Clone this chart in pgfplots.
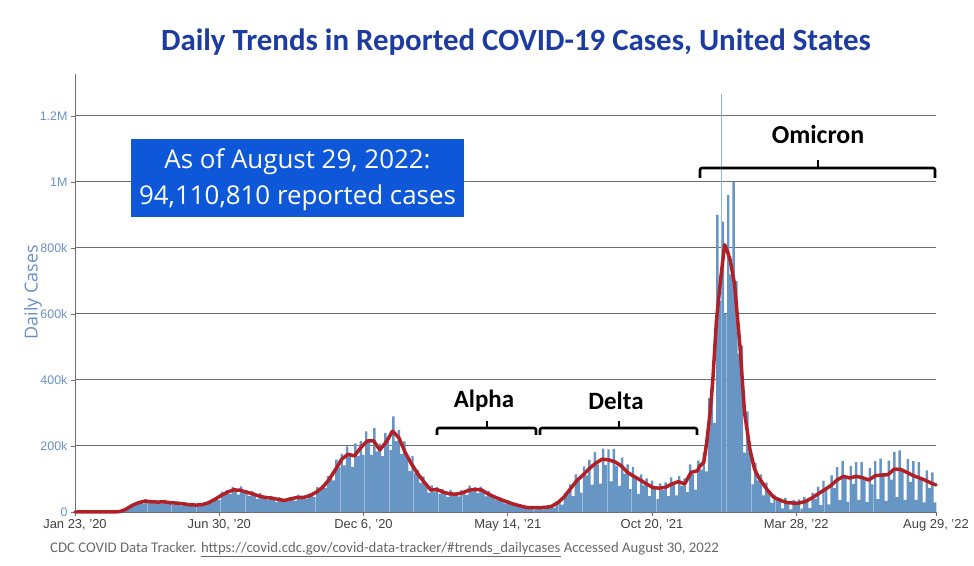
\documentclass[border=0pt]{standalone}
\usepackage{pgfplots}
\pgfplotsset{compat=1.18}
\usepackage{fontspec}
\setmainfont{Liberation Sans}
\newfontfamily\calib{Carlito}
\newfontfamily\opens{Open Sans}
\definecolor{barblue}{RGB}{104,150,196}
\definecolor{spikeblue}{RGB}{140,180,220}
\definecolor{linered}{RGB}{176,32,38}
\definecolor{titleblue}{RGB}{28,60,160}
\definecolor{boxblue}{RGB}{14,87,216}
\definecolor{ylabblue}{RGB}{105,145,198}
\definecolor{gridgray}{RGB}{110,110,110}
\definecolor{srcgray}{RGB}{105,105,105}
\begin{document}
\begin{tikzpicture}
\useasboundingbox (0,0) rectangle (974bp,566bp);
\begin{axis}[
  at={(75bp,54bp)}, anchor=south west,
  scale only axis, width=861bp, height=438bp,
  xmin=0, xmax=949, ymin=0, ymax=1327,
  axis x line*=bottom, axis y line*=left,
  axis line style={gridgray, line width=1pt},
  xtick={0,159,318,477,636,795,949},
  xticklabels={{Jan 23, '20},{Jun 30, '20},{Dec 6, '20},{May 14, '21},{Oct 20, '21},{Mar 28, '22},{Aug 29, '22}},
  ytick={0,200,400,600,800,1000,1200},
  yticklabels={0,200k,400k,600k,800k,1M,1.2M},
  xticklabel style={font=\fontsize{13}{15}\selectfont, text=black!75},
  yticklabel style={font=\fontsize{12.5}{14}\selectfont, text=ylabblue},
  tick align=outside, major tick length=4bp,
  tick style={gridgray, line width=0.8pt},
  ymajorgrids, grid style={gridgray, line width=1pt},
  clip=false,
]
\addplot[ybar, bar width=2.7, fill=barblue, draw=none] coordinates {
(0,0)(3,0)(6,0)(9,0)(12,0)(15,0)(18,0)(21,0)(24,0)(27,0)(30,0)(33,0)(36,0)(39,0)(42,0)(45,1)(48,1)(51,3)(54,5)(57,12)(60,14)(63,22)(66,20)(69,31)(72,29)(75,25)(78,39)(81,29)(84,34)(87,26)(90,35)(93,30)(96,25)(99,37)(102,27)(105,31)(108,23)(111,31)(114,26)(117,20)(120,30)(123,21)(126,24)(129,18)(132,24)(135,21)(138,17)(141,27)(144,23)(147,31)(150,27)(153,42)(156,41)(159,37)(162,62)(165,51)(168,66)(171,54)(174,76)(177,67)(180,53)(183,78)(186,58)(189,66)(192,49)(195,64)(198,53)(201,40)(204,57)(207,42)(210,48)(213,37)(216,49)(219,41)(222,31)(225,45)(228,33)(231,39)(234,32)(237,45)(240,41)(243,34)(246,53)(249,40)(252,48)(255,40)(258,56)(261,53)(264,46)(267,75)(270,63)(273,83)(276,72)(279,109)(282,107)(285,96)(288,159)(291,135)(294,176)(297,141)(300,199)(303,174)(306,137)(309,208)(312,170)(315,215)(318,173)(321,244)(324,215)(327,173)(330,254)(333,184)(336,207)(339,169)(342,240)(345,222)(348,188)(351,290)(354,215)(357,248)(360,175)(363,214)(366,170)(369,124)(372,169)(375,118)(378,127)(381,89)(384,108)(387,83)(390,59)(393,81)(396,62)(399,75)(402,55)(405,70)(408,59)(411,45)(414,66)(417,50)(420,59)(423,47)(426,66)(429,60)(432,51)(435,80)(438,62)(441,75)(444,57)(447,77)(450,64)(453,47)(456,64)(459,46)(462,51)(465,36)(468,45)(471,36)(474,26)(477,36)(480,25)(483,26)(486,19)(489,23)(492,18)(495,12)(498,17)(501,12)(504,16)(507,8)(510,16)(513,13)(516,8)(519,17)(522,14)(525,20)(528,13)(531,33)(534,31)(537,22)(540,58)(543,53)(546,84)(549,48)(552,114)(555,95)(558,59)(561,138)(564,111)(567,158)(570,83)(573,182)(576,144)(579,86)(582,192)(585,143)(588,190)(591,93)(594,191)(597,140)(600,79)(603,165)(606,116)(609,144)(612,69)(615,137)(618,100)(621,55)(624,114)(627,81)(630,102)(633,48)(636,95)(639,70)(642,40)(645,87)(648,66)(651,90)(654,48)(657,105)(660,84)(663,50)(666,109)(669,79)(672,102)(675,60)(678,144)(681,115)(684,68)(687,156)(690,128)(693,180)(696,123)(699,345)(702,356)(705,270)(708,900)(711,640)(714,880)(717,600)(720,960)(723,720)(726,1000)(729,700)(732,479)(735,504)(738,180)(741,305)(744,179)(747,84)(750,149)(753,96)(756,114)(759,50)(762,89)(765,58)(768,28)(771,53)(774,36)(777,43)(780,11)(783,43)(786,28)(789,8)(792,36)(795,22)(798,38)(801,10)(804,45)(807,35)(810,12)(813,59)(816,40)(819,77)(822,21)(825,95)(828,71)(831,23)(834,111)(837,72)(840,136)(843,36)(846,154)(849,107)(852,31)(855,140)(858,85)(861,151)(864,37)(867,152)(870,102)(873,30)(876,134)(879,84)(882,154)(885,39)(888,162)(891,112)(894,34)(897,156)(900,98)(903,182)(906,45)(909,187)(912,126)(915,37)(918,160)(921,91)(924,154)(927,37)(930,151)(933,101)(936,29)(939,126)(942,72)(945,120)(948,29)
};
\addplot[ycomb, spikeblue, line width=0.8pt, mark=none] coordinates {(712,1265)};
\addplot[linered, line width=3.5pt, line join=round, line cap=round, mark=none] coordinates {
(0,0)(42,0.3)(49,1)(56,8)(63,20)(70,28)(77,33)(84,31)(91,30)(98,31)(105,28)(112,27)(119,25)(126,22)(133,21)(140,22)(147,28)(154,38)(161,50)(168,60)(175,67)(182,66)(189,60)(196,55)(203,48)(210,44)(217,42)(224,38)(231,35)(238,40)(245,44)(252,44)(259,50)(266,60)(273,75)(280,98)(287,128)(294,160)(301,175)(308,170)(315,195)(322,215)(329,216)(336,188)(343,212)(350,245)(357,225)(364,180)(371,145)(378,115)(385,90)(392,67)(399,68)(406,60)(413,55)(420,54)(427,58)(434,66)(441,68)(448,67)(455,55)(462,46)(469,38)(476,31)(483,24)(490,19)(497,14)(504,13)(511,13)(518,14)(525,17)(532,28)(539,45)(546,70)(553,95)(560,112)(567,132)(574,148)(581,160)(588,158)(595,152)(602,140)(609,120)(616,108)(623,97)(630,85)(637,74)(644,72)(651,75)(658,85)(665,92)(672,85)(679,120)(686,125)(689,140)(693,150)(696,205)(700,300)(703,400)(707,580)(711,690)(716,810)(719,790)(722,765)(727,690)(733,500)(738,300)(744,188)(749,130)(753,107)(763,67)(770,45)(777,36)(784,29)(791,27)(798,27)(805,32)(812,42)(819,55)(826,67)(833,80)(840,97)(847,108)(854,103)(861,108)(868,104)(875,97)(882,110)(889,112)(896,113)(903,130)(910,129)(917,120)(924,110)(931,103)(938,95)(945,86)(949,82)
};
\end{axis}
% title
\node[text=titleblue, font=\calib\bfseries\fontsize{31}{36}\selectfont] at (516bp,524bp) {Daily Trends in Reported COVID-19 Cases, United States};
% y label
\node[rotate=90, text=ylabblue, font=\opens\fontsize{18}{20}\selectfont] at (33bp,274bp) {Daily Cases};
% box
\fill[boxblue] (131bp,349bp) rectangle (464bp,427bp);
\node[text=white, font=\opens\fontsize{26}{30}\selectfont] at (297.5bp,404bp) {As of August 29, 2022:};
\node[text=white, font=\opens\fontsize{26}{30}\selectfont] at (297.5bp,368bp) {94,110,810 reported cases};
% brackets
\begin{scope}[line width=2.6pt, black, rounded corners=2bp]
\draw (437bp,131bp) -- (437bp,138bp) -- (536bp,138bp) -- (536bp,131bp);
\draw (487bp,138bp) -- (487bp,145bp);
\draw (540bp,131bp) -- (540bp,138bp) -- (697bp,138bp) -- (697bp,131bp);
\draw (619bp,138bp) -- (619bp,145bp);
\draw (700bp,388bp) -- (700bp,398bp) -- (935bp,398bp) -- (935bp,388bp);
\draw (818bp,398bp) -- (818bp,406bp);
\end{scope}
\node[font=\calib\bfseries\fontsize{25}{29}\selectfont] at (484bp,165bp) {Alpha};
\node[font=\calib\bfseries\fontsize{25}{29}\selectfont] at (616bp,165bp) {Delta};
\node[font=\calib\bfseries\fontsize{26}{30}\selectfont] at (818bp,431bp) {Omicron};
% source
\node[anchor=base west, text=srcgray, font=\calib\fontsize{14.8}{17}\selectfont, inner sep=0pt] at (50bp,14bp) {CDC COVID Data Tracker. \underline{https://covid.cdc.gov/covid-data-tracker/\#trends\_dailycases} Accessed August 30, 2022};
\end{tikzpicture}
\end{document}
